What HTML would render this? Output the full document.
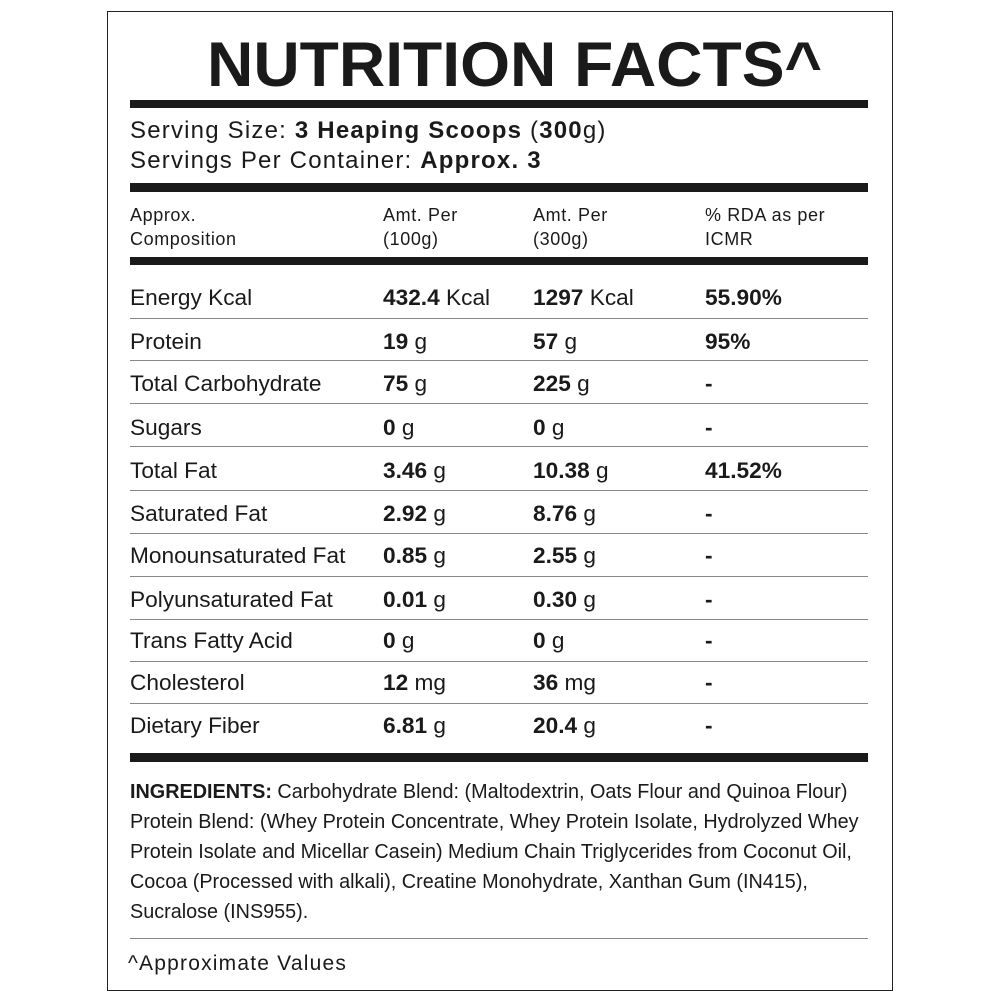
<!DOCTYPE html>
<html><head><meta charset="utf-8"><style>
body{margin:0;background:#fff;width:1000px;height:1000px;position:relative;overflow:hidden;font-family:"Liberation Sans",sans-serif;color:#1a1a1a}
.a{position:absolute;white-space:nowrap;line-height:1}
.bar{position:absolute;left:130px;width:738px;background:#1a1a1a}
.thin{position:absolute;left:130px;width:738px;height:1px;background:#888}
.r{font-size:22px;transform:scaleX(1.03);transform-origin:left}
.h{font-size:18px;line-height:24px;letter-spacing:0.6px}
b{font-weight:bold}
</style></head><body>
<div style="position:absolute;left:107px;top:11px;width:784px;height:978px;border:1.5px solid #222"></div>
<svg style="position:absolute;left:0;top:0" width="1000" height="100"><text x="207" y="86" font-family="Liberation Sans" font-weight="bold" font-size="63" textLength="615" lengthAdjust="spacingAndGlyphs" fill="#1a1a1a">NUTRITION  FACTS^</text></svg>
<div class="bar" style="top:100px;height:8px"></div>
<div class="a" style="left:130px;top:119px;font-size:24px;letter-spacing:1.2px">Serving Size: <b>3 Heaping Scoops</b> (<b>300</b>g)</div>
<div class="a" style="left:130px;top:149px;font-size:24px;letter-spacing:1.2px">Servings Per Container: <b>Approx. 3</b></div>
<div class="bar" style="top:183px;height:9px"></div>
<div class="a h" style="left:130px;top:203px">Approx.<br>Composition</div>
<div class="a h" style="left:383px;top:203px">Amt. Per<br>(100g)</div>
<div class="a h" style="left:533px;top:203px">Amt. Per<br>(300g)</div>
<div class="a h" style="left:705px;top:203px">% RDA as per<br>ICMR</div>
<div class="bar" style="top:257px;height:8px"></div>

<div class="a r" style="left:130px;top:287px">Energy Kcal</div><div class="a r" style="left:383px;top:287px"><b>432.4</b> Kcal</div><div class="a r" style="left:533px;top:287px"><b>1297</b> Kcal</div><div class="a r" style="left:705px;top:287px"><b>55.90%</b></div>
<div class="thin" style="top:318px"></div>
<div class="a r" style="left:130px;top:331px">Protein</div><div class="a r" style="left:383px;top:331px"><b>19</b> g</div><div class="a r" style="left:533px;top:331px"><b>57</b> g</div><div class="a r" style="left:705px;top:331px"><b>95%</b></div>
<div class="thin" style="top:360px"></div>
<div class="a r" style="left:130px;top:373px">Total Carbohydrate</div><div class="a r" style="left:383px;top:373px"><b>75</b> g</div><div class="a r" style="left:533px;top:373px"><b>225</b> g</div><div class="a r" style="left:705px;top:373px"><b>-</b></div>
<div class="thin" style="top:403px"></div>
<div class="a r" style="left:130px;top:417px">Sugars</div><div class="a r" style="left:383px;top:417px"><b>0</b> g</div><div class="a r" style="left:533px;top:417px"><b>0</b> g</div><div class="a r" style="left:705px;top:417px"><b>-</b></div>
<div class="thin" style="top:446px"></div>
<div class="a r" style="left:130px;top:460px">Total Fat</div><div class="a r" style="left:383px;top:460px"><b>3.46</b> g</div><div class="a r" style="left:533px;top:460px"><b>10.38</b> g</div><div class="a r" style="left:705px;top:460px"><b>41.52%</b></div>
<div class="thin" style="top:490px"></div>
<div class="a r" style="left:130px;top:503px">Saturated Fat</div><div class="a r" style="left:383px;top:503px"><b>2.92</b> g</div><div class="a r" style="left:533px;top:503px"><b>8.76</b> g</div><div class="a r" style="left:705px;top:503px"><b>-</b></div>
<div class="thin" style="top:533px"></div>
<div class="a r" style="left:130px;top:545px">Monounsaturated Fat</div><div class="a r" style="left:383px;top:545px"><b>0.85</b> g</div><div class="a r" style="left:533px;top:545px"><b>2.55</b> g</div><div class="a r" style="left:705px;top:545px"><b>-</b></div>
<div class="thin" style="top:576px"></div>
<div class="a r" style="left:130px;top:589px">Polyunsaturated Fat</div><div class="a r" style="left:383px;top:589px"><b>0.01</b> g</div><div class="a r" style="left:533px;top:589px"><b>0.30</b> g</div><div class="a r" style="left:705px;top:589px"><b>-</b></div>
<div class="thin" style="top:619px"></div>
<div class="a r" style="left:130px;top:630px">Trans Fatty Acid</div><div class="a r" style="left:383px;top:630px"><b>0</b> g</div><div class="a r" style="left:533px;top:630px"><b>0</b> g</div><div class="a r" style="left:705px;top:630px"><b>-</b></div>
<div class="thin" style="top:661px"></div>
<div class="a r" style="left:130px;top:672px">Cholesterol</div><div class="a r" style="left:383px;top:672px"><b>12</b> mg</div><div class="a r" style="left:533px;top:672px"><b>36</b> mg</div><div class="a r" style="left:705px;top:672px"><b>-</b></div>
<div class="thin" style="top:703px"></div>
<div class="a r" style="left:130px;top:715px">Dietary Fiber</div><div class="a r" style="left:383px;top:715px"><b>6.81</b> g</div><div class="a r" style="left:533px;top:715px"><b>20.4</b> g</div><div class="a r" style="left:705px;top:715px"><b>-</b></div>
<div class="bar" style="top:753px;height:9px"></div>

<div class="a" style="left:130px;top:777px;font-size:20px;line-height:30px;transform:scaleX(0.99);transform-origin:left">
<b>INGREDIENTS:</b> Carbohydrate Blend: (Maltodextrin, Oats Flour and Quinoa Flour)<br>
Protein Blend: (Whey Protein Concentrate, Whey Protein Isolate, Hydrolyzed Whey<br>
Protein Isolate and Micellar Casein) Medium Chain Triglycerides from Coconut Oil,<br>
Cocoa (Processed with alkali), Creatine Monohydrate, Xanthan Gum (IN415),<br>
Sucralose (INS955).</div>
<div class="thin" style="top:938px"></div>
<div class="a" style="left:128px;top:953px;font-size:21px;letter-spacing:1.2px">^Approximate Values</div>
</body></html>
